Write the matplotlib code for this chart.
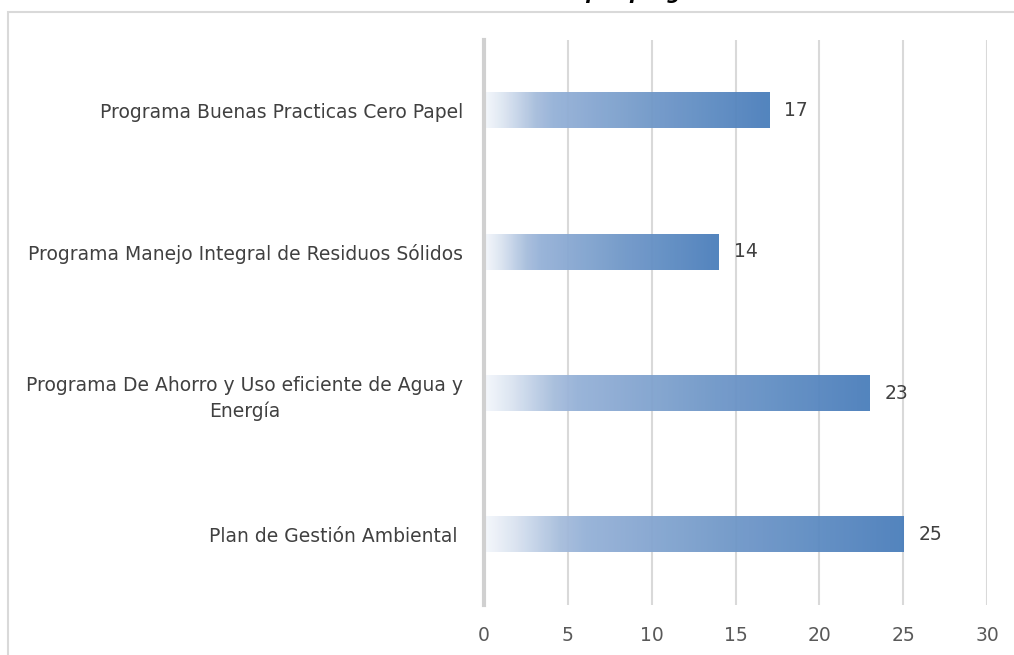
import numpy as np
import matplotlib.pyplot as plt
from matplotlib.colors import LinearSegmentedColormap
from matplotlib.patches import Rectangle

# data (bottom to top)
categories = [
    "Plan de Gestión Ambiental ",
    "Programa De Ahorro y Uso eficiente de Agua y\nEnergía",
    "Programa Manejo Integral de Residuos Sólidos",
    "Programa Buenas Practicas Cero Papel",
]
values = [25, 23, 14, 17]
xticks = [0, 5, 10, 15, 20, 25, 30]
title = "Actividades por programa"

W, H = 1014, 655
fig = plt.figure(figsize=(W / 100, H / 100), dpi=100)
fig.patch.set_facecolor("white")

# chart frame, runs off the right and bottom edges
fig.patches.append(Rectangle((8 / W, -0.05), 1.1, 1 - 12 / H + 0.05,
                             transform=fig.transFigure, fill=False,
                             edgecolor="#d9d9d9", linewidth=1.5))
# title sits mostly above the canvas, only the descenders show
fig.text(0.587, 1 + 1.2 / H, title, ha="center", va="baseline",
         fontsize=14, fontweight="bold", fontstyle="italic", color="#000000")

ax = fig.add_axes([484 / W, 1 - 605 / H, (987 - 484) / W, (605 - 40) / H])
ax.set_facecolor("none")

grad = LinearSegmentedColormap.from_list(
    "bar_grad",
    [(0.0, "#f5f8fc"), (0.07, "#dbe4f1"), (0.18, "#a6bddc"), (0.24, "#95b1d7"),
     (0.6, "#6f97c8"), (1.0, "#4a7ebb")])
ramp = np.linspace(0, 1, 256)[None, :]

bar_h = 0.25
ypos = np.arange(len(categories))
for y, v in zip(ypos, values):
    ax.imshow(ramp, cmap=grad, aspect="auto", extent=[0, v, y - bar_h / 2, y + bar_h / 2],
              alpha=0.95, zorder=2, interpolation="bilinear")
    ax.text(v + 0.9, y, str(v), ha="left", va="center", fontsize=13.5, color="#404040", zorder=3)

ax.set_xlim(0, 30)
ax.set_ylim(-0.5, len(categories) - 0.5)
ax.set_xticks(xticks)
ax.set_xticklabels([str(t) for t in xticks])
ax.set_yticks(ypos)
ax.set_yticklabels(categories, multialignment="center", linespacing=1.45)
ax.tick_params(axis="x", length=0, pad=15, labelsize=13.5, labelcolor="#595959")
ax.tick_params(axis="y", length=0, pad=15, labelsize=13.5, labelcolor="#404040")

ax.grid(axis="x", color="#d9d9d9", linewidth=1.5, zorder=1)
ax.set_axisbelow(True)
for side in ["top", "right", "bottom"]:
    ax.spines[side].set_visible(False)
ax.spines["left"].set_color("#d0d0d0")
ax.spines["left"].set_linewidth(3)

fig.savefig("out.png", dpi=100, facecolor="white")
